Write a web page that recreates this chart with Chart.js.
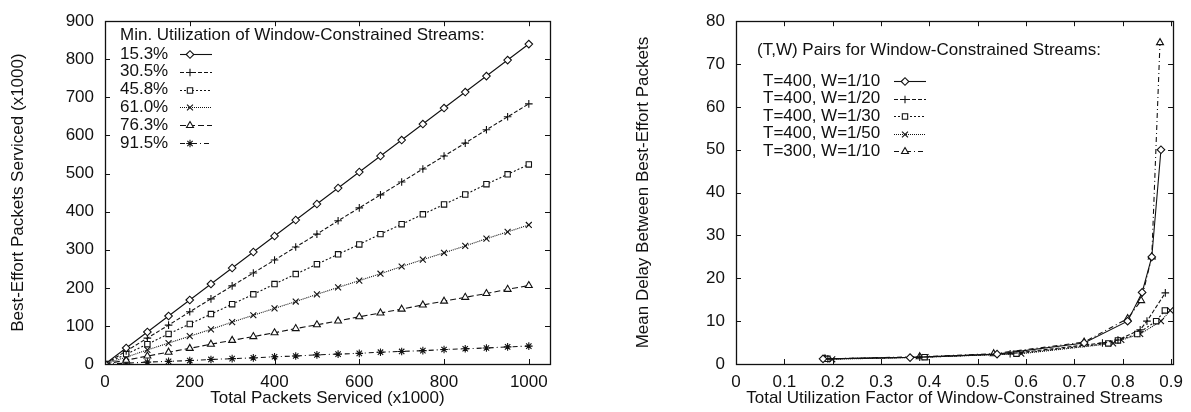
<!DOCTYPE html>
<html>
<head>
<meta charset="utf-8">
<script src="https://cdn.jsdelivr.net/npm/chart.js@4/dist/chart.umd.min.js"></script>
<style>
  html, body { margin: 0; padding: 0; background: #fff; width: 1191px; height: 412px; overflow: hidden; }
  .box { position: absolute; top: 0; height: 412px; }
  #b1 { left: 0; width: 595px; }
  #b2 { left: 595px; width: 596px; }
</style>
</head>
<body>
<div class="box" id="b1"><canvas id="c1" width="595" height="412"></canvas></div>
<div class="box" id="b2"><canvas id="c2" width="596" height="412"></canvas></div>
<script>
// ---------- Left chart data ----------
const totalPackets = [0, 50, 100, 150, 200, 250, 300, 350, 400, 450, 500, 550, 600, 650, 700, 750, 800, 850, 900, 950, 1000];
const util153 = [0, 42, 84, 126, 168, 210, 252, 294, 336, 378, 420, 462, 504, 546, 588, 630, 672, 714, 756, 798, 840];
const util305 = [0, 34, 68, 102, 137, 171, 205, 239, 273, 307, 341, 376, 410, 444, 478, 512, 546, 580, 615, 649, 683];
const util458 = [0, 26, 52, 79, 105, 131, 157, 183, 210, 236, 262, 288, 314, 341, 367, 393, 419, 445, 472, 498, 524];
const util610 = [0, 18, 37, 55, 73, 91, 110, 128, 146, 164, 183, 201, 219, 237, 256, 274, 292, 310, 329, 347, 365];
const util763 = [0, 10, 21, 31, 41, 52, 62, 72, 82, 93, 103, 113, 124, 134, 144, 155, 165, 175, 185, 196, 206];
const util915 = [0, 2, 5, 7, 9, 12, 14, 16, 19, 21, 24, 26, 28, 31, 33, 35, 38, 40, 42, 45, 47];
const leftLabels = ["15.3%", "30.5%", "45.8%", "61.0%", "76.3%", "91.5%"];
const leftLegendTitle = "Min. Utilization of Window-Constrained Streams:";

// ---------- Right chart data ----------
const w10x = [0.18, 0.36, 0.54, 0.72, 0.81, 0.84, 0.86, 0.879];
const w10y = [1.2, 1.5, 2.3, 4.9, 10.0, 16.7, 25.0, 50.0];
const w20x = [0.19, 0.38, 0.567, 0.758, 0.79, 0.836, 0.85, 0.888];
const w20y = [1.2, 1.6, 2.4, 4.9, 5.6, 8.0, 10.0, 16.6];
const w30x = [0.189, 0.39, 0.58, 0.77, 0.79, 0.83, 0.869, 0.887];
const w30y = [1.2, 1.6, 2.4, 4.8, 5.5, 7.0, 10.0, 12.5];
const w50x = [0.199, 0.392, 0.59, 0.78, 0.797, 0.836, 0.879, 0.898];
const w50y = [1.1, 1.6, 2.4, 4.8, 5.6, 7.0, 10.0, 12.5];
const t300x = [0.184, 0.38, 0.533, 0.72, 0.81, 0.838, 0.86, 0.877];
const t300y = [1.2, 1.7, 2.4, 5.1, 10.6, 14.8, 25.0, 75.0];
const rightLabels = ["T=400, W=1/10", "T=400, W=1/20", "T=400, W=1/30", "T=400, W=1/50", "T=300, W=1/10"];
const rightLegendTitle = "(T,W) Pairs for Window-Constrained Streams:";

const FONT = "'Liberation Sans', Arial, Helvetica, sans-serif";
const INK = '#111';

function pts(xs, ys) { return xs.map((x, i) => ({ x: x, y: ys[i] })); }

const styles = {
  diamond: { pointStyle: 'rectRot', radius: 3.8 },
  plus: { pointStyle: 'cross', radius: 3.8 },
  square: { pointStyle: 'rect', radius: 3.8 },
  cross: { pointStyle: 'crossRot', radius: 4.2 },
  tri: { pointStyle: 'triangle', radius: 4 },
  star: { pointStyle: 'star', radius: 3.8 }
};

function ds(label, data, mk, dash) {
  return {
    label: label, data: data,
    borderColor: INK, backgroundColor: '#fff',
    borderWidth: 1.1, borderDash: dash,
    pointStyle: styles[mk].pointStyle, pointRadius: styles[mk].radius,
    pointBorderColor: INK, pointBackgroundColor: '#fff', pointBorderWidth: 1.1,
    pointHoverRadius: styles[mk].radius,
    showLine: true, tension: 0, fill: false
  };
}

// frame + inward ticks (gnuplot style)
const framePlugin = {
  id: 'frame',
  afterDraw(chart) {
    const { ctx, chartArea: a, scales } = chart;
    const tl = 5;
    ctx.save();
    ctx.strokeStyle = INK; ctx.lineWidth = 1;
    ctx.beginPath();
    scales.x.ticks.forEach(t => {
      const px = Math.round(scales.x.getPixelForValue(t.value)) + 0.5;
      ctx.moveTo(px, a.bottom); ctx.lineTo(px, a.bottom - tl);
      ctx.moveTo(px, a.top); ctx.lineTo(px, a.top + tl);
    });
    scales.y.ticks.forEach(t => {
      const py = Math.round(scales.y.getPixelForValue(t.value)) + 0.5;
      ctx.moveTo(a.left, py); ctx.lineTo(a.left + tl, py);
      ctx.moveTo(a.right, py); ctx.lineTo(a.right - tl, py);
    });
    ctx.stroke();
    ctx.lineWidth = 1.3;
    ctx.strokeRect(Math.round(a.left) + 0.5, Math.round(a.top) + 0.5, Math.round(a.right - a.left), Math.round(a.bottom - a.top));
    ctx.restore();
  }
};

const origDraw = Chart.helpers.drawPoint;
function drawMarker(ctx, opts, x, y) {
  ctx.save();
  ctx.fillStyle = '#fff'; ctx.strokeStyle = INK; ctx.lineWidth = 1.1;
  origDraw(ctx, opts, x, y);
  ctx.restore();
}

// gnuplot-like key: text, then line sample with marker
const keyPlugin = {
  id: 'gkey',
  afterDraw(chart, args, o) {
    const ctx = chart.ctx;
    ctx.save();
    ctx.fillStyle = INK;
    ctx.font = '17px ' + FONT;
    ctx.textBaseline = 'middle';
    ctx.textAlign = 'left';
    ctx.fillText(o.title, o.titleX, o.titleY);
    chart.data.datasets.forEach((d, i) => {
      const y = o.rowY + i * o.rowH;
      ctx.fillStyle = INK;
      ctx.fillText(d.label, o.textX, y);
      ctx.strokeStyle = INK; ctx.lineWidth = 1.1;
      ctx.setLineDash(d.borderDash || []);
      ctx.beginPath();
      ctx.moveTo(o.lineX0, Math.round(y) + 0.5);
      ctx.lineTo(o.lineX1, Math.round(y) + 0.5);
      ctx.stroke();
      ctx.setLineDash([]);
      drawMarker(ctx, { pointStyle: d.pointStyle, radius: d.pointRadius, borderWidth: 1.1, rotation: 0 }, o.markX, Math.round(y) + 0.5);
    });
    ctx.restore();
  }
};

function axisTitle(text, pad) {
  return { display: true, text: text, color: INK, font: { family: FONT, size: 17 }, padding: pad };
}

function baseOptions(cfg) {
  return {
    responsive: false, animation: false, devicePixelRatio: 1,
    layout: { padding: cfg.padding },
    plugins: { legend: { display: false }, tooltip: { enabled: false }, gkey: cfg.key },
    scales: {
      x: {
        type: 'linear', min: cfg.xmin, max: cfg.xmax,
        grid: { display: false, drawTicks: false }, border: { display: false },
        ticks: { stepSize: cfg.xstep, includeBounds: false, color: INK, font: { family: FONT, size: 17 }, padding: 8, maxRotation: 0,
                 callback: cfg.xfmt },
        title: axisTitle(cfg.xtitle, { top: 0, bottom: 3 }),
        afterFit: s => { s.height = 48; }
      },
      y: {
        type: 'linear', min: cfg.ymin, max: cfg.ymax,
        grid: { display: false, drawTicks: false }, border: { display: false },
        ticks: { stepSize: cfg.ystep, color: INK, font: { family: FONT, size: 17 }, padding: 11 },
        title: axisTitle(cfg.ytitle, { top: cfg.ytpad, bottom: 0 }),
        afterFit: s => { s.width = cfg.yw; }
      }
    }
  };
}

new Chart(document.getElementById('c1'), {
  type: 'scatter',
  data: {
    datasets: [
      ds(leftLabels[0], pts(totalPackets, util153), 'diamond', []),
      ds(leftLabels[1], pts(totalPackets, util305), 'plus', [4, 2]),
      ds(leftLabels[2], pts(totalPackets, util458), 'square', [2, 2]),
      ds(leftLabels[3], pts(totalPackets, util610), 'cross', [1, 1]),
      ds(leftLabels[4], pts(totalPackets, util763), 'tri', [6, 3]),
      ds(leftLabels[5], pts(totalPackets, util915), 'star', [5, 3, 1, 3])
    ]
  },
  options: baseOptions({
    padding: { top: 15, right: 45, bottom: 0, left: 0 },
    xmin: 0, xmax: 1050, xstep: 200, ymin: 0, ymax: 900, ystep: 100,
    xfmt: v => String(v),
    xtitle: 'Total Packets Serviced (x1000)', ytitle: 'Best-Effort Packets Serviced (x1000)',
    ytpad: 8, yw: 105,
    key: { title: leftLegendTitle, titleX: 120, titleY: 35, textX: 120, rowY: 54, rowH: 17.8, lineX0: 180, lineX1: 212, markX: 190 }
  }),
  plugins: [framePlugin, keyPlugin]
});

new Chart(document.getElementById('c2'), {
  type: 'scatter',
  data: {
    datasets: [
      ds(rightLabels[0], pts(w10x, w10y), 'diamond', []),
      ds(rightLabels[1], pts(w20x, w20y), 'plus', [4, 2]),
      ds(rightLabels[2], pts(w30x, w30y), 'square', [2, 2]),
      ds(rightLabels[3], pts(w50x, w50y), 'cross', [1, 1]),
      ds(rightLabels[4], pts(t300x, t300y), 'tri', [5, 3, 1, 3])
    ]
  },
  options: baseOptions({
    padding: { top: 15, right: 13, bottom: 0, left: 0 },
    xmin: 0, xmax: 0.904, xstep: 0.1, ymin: 0, ymax: 80, ystep: 10,
    xfmt: v => (v === 0 ? '0' : (Math.round(v * 10) / 10).toFixed(1)),
    xtitle: 'Total Utilization Factor of Window-Constrained Streams', ytitle: 'Mean Delay Between Best-Effort Packets',
    ytpad: 38, yw: 141,
    key: { title: rightLegendTitle, titleX: 162, titleY: 50, textX: 168, rowY: 81, rowH: 17.5, lineX0: 299, lineX1: 331, markX: 310 }
  }),
  plugins: [framePlugin, keyPlugin]
});
</script>
</body>
</html>
